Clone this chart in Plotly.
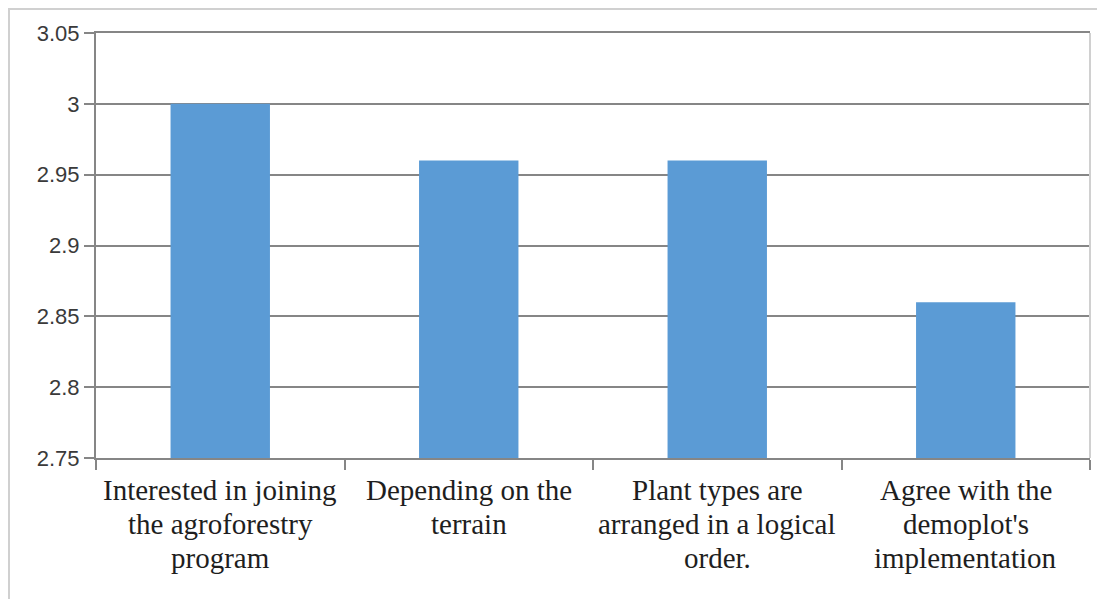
import plotly.graph_objects as go

categories = [
    "Interested in joining the agroforestry program",
    "Depending on the terrain",
    "Plant types are arranged in a logical order.",
    "Agree with the demoplot's implementation",
]
label_lines = [
    ["Interested in joining", "the agroforestry", "program"],
    ["Depending on the", "terrain"],
    ["Plant types are", "arranged in a logical", "order."],
    ["Agree with the", "demoplot's", "implementation"],
]
values = [3.00, 2.96, 2.96, 2.86]
y_ticks = [2.75, 2.8, 2.85, 2.9, 2.95, 3.0, 3.05]
y_tick_text = ["2.75", "2.8", "2.85", "2.9", "2.95", "3", "3.05"]

# page body has an 8px margin, so the figure is offset by 8px
W, H = 1097, 591
L, R, T, B = 88, 15, 25, 141
pw, ph = W - L - R, H - T - B

fig = go.Figure(go.Bar(x=categories, y=values,
                       marker=dict(color="#5B9BD5", line=dict(width=0)), width=0.4))

grid = "#868686"
frame = "#d0d0d0"
annotations = []
for cat, lines in zip(categories, label_lines):
    for i, line in enumerate(lines):
        annotations.append(dict(
            x=cat, y=2.75, xref="x", yref="y", text=line, showarrow=False,
            xanchor="center", yanchor="top", yshift=-14 - 34 * i,
            font=dict(family="Liberation Serif, Times New Roman, serif", size=29, color="#1e1e1e"),
        ))

fig.update_layout(
    width=W, height=H,
    margin=dict(l=L, r=R, t=T, b=B),
    paper_bgcolor="white", plot_bgcolor="white",
    showlegend=False,
    xaxis=dict(
        tickson="boundaries", ticks="outside", ticklen=10, tickwidth=2, tickcolor=grid,
        showline=True, linecolor=grid, linewidth=2, showgrid=False, mirror=True,
        showticklabels=False,
    ),
    yaxis=dict(
        range=[2.75, 3.05], tickvals=y_ticks, ticktext=y_tick_text,
        ticks="outside", ticklen=10, tickwidth=2, tickcolor=grid,
        showline=True, linecolor=grid, linewidth=2,
        showgrid=True, gridcolor=grid, gridwidth=2, zeroline=False,
        tickfont=dict(family="Liberation Sans", size=22, color="#3a3a3a"),
    ),
    annotations=annotations,
    shapes=[
        dict(type="line", xref="paper", yref="paper", x0=1, x1=1, y0=0, y1=1,
             line=dict(color=frame, width=2)),
        dict(type="line", xref="paper", yref="paper",
             x0=(0 - L) / pw, x1=(W + 20 - L) / pw,
             y0=1 + (T - 1) / ph, y1=1 + (T - 1) / ph,
             line=dict(color=frame, width=2)),
        dict(type="line", xref="paper", yref="paper",
             x0=(1 - L) / pw, x1=(1 - L) / pw,
             y0=1 + (T - 1) / ph, y1=-(B + 20) / ph,
             line=dict(color=frame, width=2)),
    ],
)
fig.write_html("out.html")
